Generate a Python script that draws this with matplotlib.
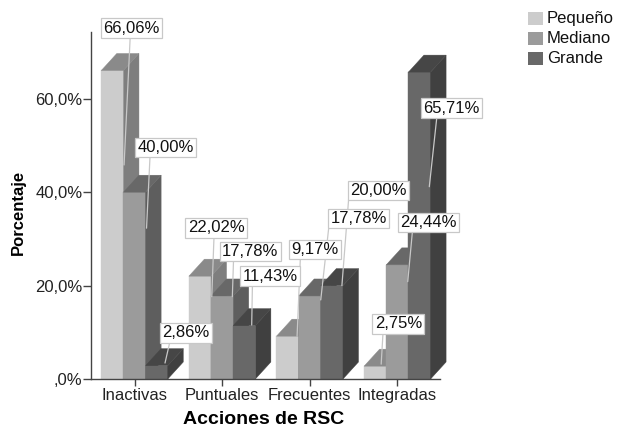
import matplotlib
matplotlib.use("Agg")
import matplotlib.pyplot as plt
from matplotlib.patches import Polygon, Rectangle
from matplotlib.transforms import offset_copy

plt.rcParams['font.family'] = ['Liberation Sans', 'DejaVu Sans']

# datos: porcentaje de empresas por tipo de acción de RSC y tamaño
categorias = ['Inactivas', 'Puntuales', 'Frecuentes', 'Integradas']
tamanos = ['Pequeño', 'Mediano', 'Grande']
pequeno = [66.06, 22.02, 9.17, 2.75]
mediano = [40.00, 17.78, 17.78, 24.44]
grande = [2.86, 11.43, 20.00, 65.71]
y_ticks = [0, 20, 40, 60]
y_tick_labels = [',0%', '20,0%', '40,0%', '60,0%']

series = [pequeno, mediano, grande]
# (frente, techo, lateral)
colores = [('#cccccc', '#8a8a8a', '#7e7e7e'),
           ('#9b9b9b', '#686868', '#5e5e5e'),
           ('#686868', '#464646', '#404040')]

# colocación de las etiquetas (px respecto al centro superior de la cara frontal)
caja_off = [[(19.4, 42.2), (16.1, 48.2), (27.5, 86.7), (23.2, 42.2)],
            [(31, 44.7), (27.9, 44.3), (49, 77.3), (31, 42.4)],
            [(29.1, 32.8), (25.7, 49.6), (46.4, 95.1), (32.2, -36.2)]]
linea_fin = [[(11.7, -94.5), (11.8, -20.5), (9.5, 0), (6, 2)],
             [(12, -36), (10.2, -0.7), (11, -4), (10.4, -16.8)],
             [(8.3, 2.6), (7.4, 0.6), (10, 0), (9.8, -114.6)]]
linea_rel = [[0.48, 0.47, 0.21, 0.2],
             [0.24, 0.22, 0.0, 0.24],
             [0.22, 0.2, 0.0, 0.26]]

W, H = 617, 433
fig = plt.figure(figsize=(W / 100, H / 100), dpi=100)
ax = fig.add_axes([91 / W, 1 - 379 / H, (440 - 91) / W, (379 - 32) / H])
ax.set_xlim(-0.497, 3.487)
ax.set_ylim(0, 74.3)

ancho = 0.253
# profundidad 3D en unidades de datos
px_x = (440 - 91) / (3.487 + 0.497)
px_y = (379 - 32) / 74.3
dx = 15.5 / px_x
dy = 17 / px_y

for i, cat in enumerate(categorias):
    for j, vals in enumerate(series):
        v = vals[i]
        x0 = i + (j - 1.5) * ancho
        x1 = x0 + ancho
        fr, te, la = colores[j]
        caras = [
            ([(x0, 0), (x1, 0), (x1, v), (x0, v)], fr),
            ([(x1, 0), (x1 + dx, dy), (x1 + dx, v + dy), (x1, v)], la),
            ([(x0, v), (x1, v), (x1 + dx, v + dy), (x0 + dx, v + dy)], te),
        ]
        for pts, c in caras:
            ax.add_patch(Polygon(pts, closed=True, facecolor=c, edgecolor=c,
                                 lw=0.3, clip_on=False, zorder=2))

# etiquetas con líneas guía
for j, vals in enumerate(series):
    for i, v in enumerate(vals):
        xc = i + (j - 1) * ancho
        texto = f'{v:.2f}%'.replace('.', ',')
        ex, ey = linea_fin[j][i]
        bx, by = caja_off[j][i]
        w = 8.5 * len(texto) + 7
        sx = bx + (linea_rel[j][i] - 0.5) * w
        fin = offset_copy(ax.transData, fig=fig, x=ex, y=ey, units='dots')
        ax.annotate('', xy=(xc, v), xycoords=fin,
                    xytext=(sx - ex, by - ey), textcoords='offset pixels',
                    arrowprops=dict(arrowstyle='-', color='#c8c8c8', lw=0.9,
                                    shrinkA=0, shrinkB=0),
                    annotation_clip=False, zorder=4)
        centro = offset_copy(ax.transData, fig=fig, x=bx, y=by, units='dots')
        ax.text(xc, v, texto, transform=centro, ha='center', va='center',
                fontsize=12, color='#111111', zorder=6, clip_on=False,
                bbox=dict(boxstyle='square,pad=0.14', facecolor='white',
                          edgecolor='#c8c8c8', lw=0.9))

for s in ['top', 'right']:
    ax.spines[s].set_visible(False)
for s in ['left', 'bottom']:
    ax.spines[s].set_color('#444444')
    ax.spines[s].set_linewidth(1.0)
ax.set_yticks(y_ticks)
ax.set_yticklabels(y_tick_labels)
ax.set_xticks(range(len(categorias)))
ax.set_xticklabels(categorias)
ax.tick_params(axis='y', direction='out', length=5.8, width=1, color='#444444',
               pad=0.5, labelsize=12, labelcolor='#222222')
ax.tick_params(axis='x', direction='out', length=5, width=1, color='#444444',
               pad=1.5, labelsize=12, labelcolor='#222222')
ax.patch.set_visible(False)

fig.text(18 / W, 1 - 212 / H, 'Porcentaje', rotation=90, ha='center',
         va='center', fontsize=12, fontweight='bold')
fig.text(264 / W, 1 - 420 / H, 'Acciones de RSC', ha='center', va='center',
         fontsize=14, fontweight='bold')

# leyenda
for k, nombre in enumerate(tamanos):
    top = 11.7 + 20 * k
    fig.add_artist(Rectangle((528.3 / W, 1 - (top + 13.5) / H), 14.5 / W, 13.5 / H,
                             transform=fig.transFigure, facecolor=colores[k][0],
                             edgecolor='none'))
    fig.text(547 / W, 1 - (top + 6.8) / H, nombre, ha='left', va='center',
             fontsize=12, color='#111111')

fig.savefig('out.png', dpi=100)
